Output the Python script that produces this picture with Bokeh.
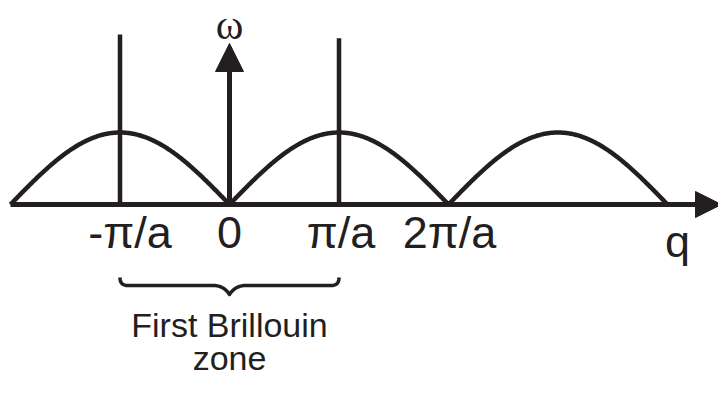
import numpy as np
from bokeh.plotting import figure
from bokeh.models import Range1d, Arrow, NormalHead
from bokeh.core.properties import value
from bokeh.embed import file_html
from bokeh.resources import INLINE

# q measured in units of pi/a, omega in units of omega_max
tick_q = [-1, 0, 1, 2]
tick_labels = ["-π/a", "0", "π/a", "2π/a"]
zone_edges = [-1, 1]          # first Brillouin zone boundaries
zone_line_tops = [2.36, 2.31]  # heights of the boundary markers
q_start, q_end = -2, 4         # extent of the dispersion curve
omega_max = 1.0

INK = "#231f20"
W, H = 718, 394
X0, UX = 229, 109.5   # screen x of q=0, pixels per pi/a
Y0, UY = 204, 72      # screen y of omega=0, pixels per omega_max
TXT_SHIFT = 14        # baseline correction for svg text


def wy(py):
    """screen y (from top) -> data omega"""
    return (Y0 - py) / UY


def ty(py):
    """text baseline at screen y"""
    return wy(py - TXT_SHIFT)


def qx(px):
    """screen x -> data q"""
    return (px - X0) / UX


p = figure(width=W, height=H, output_backend="svg", toolbar_location=None,
           x_range=Range1d(qx(0), qx(W)), y_range=Range1d(wy(H), wy(0)),
           x_axis_location=None, y_axis_location=None, min_border=0,
           outline_line_color=None, background_fill_color="white",
           border_fill_color="white")
p.xgrid.visible = False
p.ygrid.visible = False

# dispersion relation of the monatomic chain: omega = omega_max |sin(qa/2)|
q = np.linspace(q_start, q_end, 801)
omega = omega_max * np.abs(np.sin(np.pi * q / 2))
p.line(q, omega, line_color=INK, line_width=4.5)

# zone boundary markers
p.segment(x0=zone_edges, y0=[0, 0], x1=zone_edges, y1=zone_line_tops,
          line_color=INK, line_width=4.5)

# q axis with arrow
p.add_layout(Arrow(x_start=q_start, y_start=0, x_end=qx(721), y_end=0,
                   line_color=INK, line_width=5,
                   end=NormalHead(size=26, fill_color=INK, line_color=INK, line_width=1)))
# omega axis with arrow
p.add_layout(Arrow(x_start=0, y_start=0, x_end=0, y_end=wy(43),
                   line_color=INK, line_width=5,
                   end=NormalHead(size=28, fill_color=INK, line_color=INK, line_width=1)))

# tick labels under the q axis
label_nudge = [10, 0, 2, 1]
lx = [t + n / UX for t, n in zip(tick_q, label_nudge)]
p.text(x=lx, y=[ty(246)] * len(tick_q), text=tick_labels,
       text_font=value("Liberation Sans"), text_font_size="45px",
       text_color=INK, text_align="center", text_baseline="alphabetic")

p.text(x=[qx(677)], y=[ty(255)], text=["q"],
       text_font=value("Liberation Sans"), text_font_size="45px",
       text_color=INK, text_align="center", text_baseline="alphabetic")

p.text(x=[0], y=[ty(38)], text=["ω"],
       text_font=value("Liberation Serif"), text_font_size="42px",
       text_color=INK, text_align="center", text_baseline="alphabetic")


# curly brace under the first zone
def qbez(a, c, b, n=20):
    t = np.linspace(0, 1, n)[:, None]
    return (1 - t) ** 2 * np.array(a) + 2 * (1 - t) * t * np.array(c) + t ** 2 * np.array(b)


xl, xr = zone_edges
xc = 0.5 * (xl + xr)
yt, ym, yb = wy(277), wy(285), wy(294)
hook, dip = 0.07, 0.15
pts = np.vstack([
    qbez((xl, yt), (xl, ym), (xl + hook, ym)),
    qbez((xc - dip, ym), (xc - dip * 0.35, ym), (xc, yb)),
    qbez((xc, yb), (xc + dip * 0.35, ym), (xc + dip, ym)),
    qbez((xr - hook, ym), (xr, ym), (xr, yt)),
])
p.line(pts[:, 0], pts[:, 1], line_color=INK, line_width=3.5, line_join="round")

p.text(x=[xc, xc], y=[ty(338), ty(371)], text=["First Brillouin", "zone"],
       text_font=value("Liberation Sans"), text_font_size="34px",
       text_color=INK, text_align="center", text_baseline="alphabetic")

open("out.html", "w").write(file_html(p, INLINE))
